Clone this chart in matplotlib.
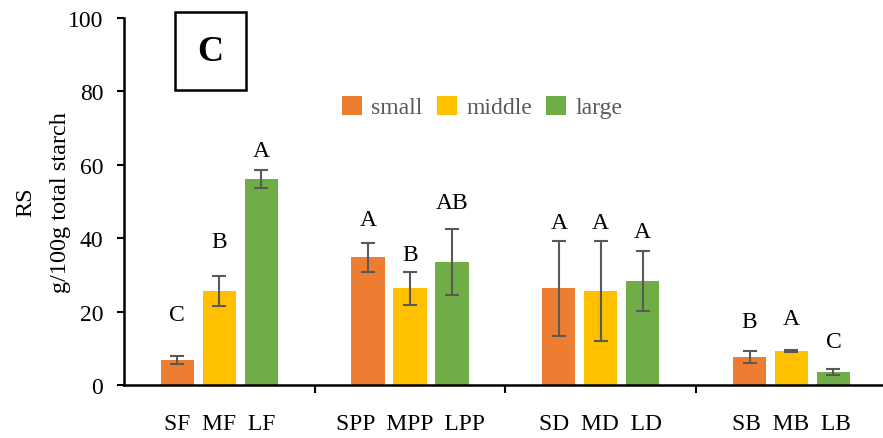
import matplotlib.pyplot as plt
import numpy as np

plt.rcParams['font.family'] = ['Liberation Serif', 'DejaVu Serif']

groups = ['SF  MF  LF', 'SPP  MPP  LPP', 'SD  MD  LD', 'SB  MB  LB']
sizes = ['small', 'middle', 'large']
colors = ['#ED7D31', '#FFC000', '#70AD47']

# values per size (small, middle, large) for each group
small_vals = [6.8, 34.8, 26.3, 7.6]
middle_vals = [25.6, 26.3, 25.6, 9.2]
large_vals = [56.1, 33.6, 28.3, 3.6]
small_err = [1.1, 4.0, 12.9, 1.6]
middle_err = [4.0, 4.4, 13.6, 0.3]
large_err = [2.4, 9.0, 8.1, 0.8]

# significance letters and where they sit
small_lab = ['C', 'A', 'A', 'B']
middle_lab = ['B', 'B', 'A', 'A']
large_lab = ['A', 'AB', 'A', 'C']
small_lab_y = [19.3, 45.2, 44.3, 17.2]
middle_lab_y = [39.0, 35.5, 44.3, 18.0]
large_lab_y = [63.8, 49.8, 41.8, 11.8]

vals = [small_vals, middle_vals, large_vals]
errs = [small_err, middle_err, large_err]
labs = [small_lab, middle_lab, large_lab]
lab_y = [small_lab_y, middle_lab_y, large_lab_y]

fig = plt.figure(figsize=(8.83, 4.39), dpi=100)
ax = fig.add_axes([0.1404, 0.1207, 0.8596, 0.836])

x = np.arange(len(groups))
w = 0.175
off = 0.22
for i in range(3):
    xs = x + (i - 1) * off
    ax.bar(xs, vals[i], width=w, color=colors[i], label=sizes[i], zorder=2)
    ax.errorbar(xs, vals[i], yerr=errs[i], fmt='none', ecolor='#595959',
                elinewidth=1.5, capsize=5, capthick=1.5, zorder=3)
    for xx, t, yy in zip(xs, labs[i], lab_y[i]):
        ax.text(xx, yy, t, ha='center', va='center', fontsize=17)

ax.set_xlim(-0.5, 3.48)
ax.set_ylim(0, 100)
ax.set_yticks(range(0, 101, 20))
ax.tick_params(axis='y', labelsize=17, length=5, width=1.5, direction='out', pad=10)
ax.set_xticks(x)
ax.set_xticklabels(groups, fontsize=17)
ax.tick_params(axis='x', which='major', length=0, pad=20)
ax.set_xticks(np.arange(-0.5, 3.5, 1.0)[1:], minor=True)
ax.tick_params(axis='x', which='minor', length=6, width=1.5, direction='out')

for s in ['top', 'right']:
    ax.spines[s].set_visible(False)
ax.spines['left'].set_linewidth(1.8)
ax.spines['bottom'].set_linewidth(1.8)

ax.set_ylabel('RS\ng/100g total starch', fontsize=17.5, linespacing=1.85, labelpad=-2)

ax.legend(loc='center', bbox_to_anchor=(0.472, 0.757), ncol=3, frameon=False,
          prop={'size': 17}, handlelength=0.85, handleheight=0.85, handletextpad=0.4,
          columnspacing=0.6, labelcolor='#595959')

fig.text(0.2384, 0.881, 'C', fontsize=26, fontweight='bold', ha='center', va='center',
         bbox=dict(boxstyle='square,pad=0.62', facecolor='white', edgecolor='black', linewidth=1.8))

fig.savefig('out.png', dpi=100)
